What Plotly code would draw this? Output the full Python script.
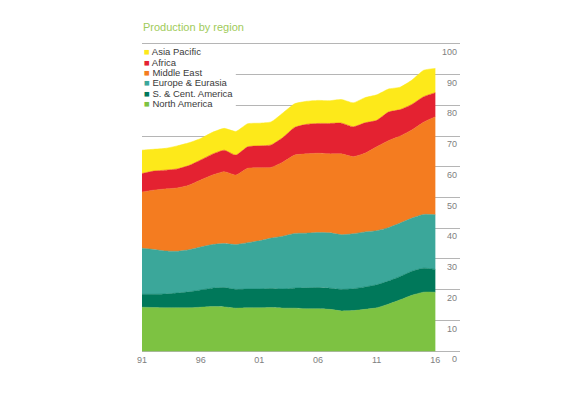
import plotly.graph_objects as go

years = list(range(1991, 2017))
north_america = [14.3, 14.2, 14.1, 14.1, 14.1, 14.3, 14.5, 14.4, 14.0, 14.1, 14.1, 14.2, 14.0,
                 14.0, 13.8, 13.8, 13.6, 13.1, 13.2, 13.6, 14.1, 15.3, 16.7, 18.2, 19.2, 19.2]
sc_america = [4.2, 4.3, 4.5, 4.8, 5.2, 5.6, 6.0, 6.3, 6.1, 6.1, 6.1, 6.2, 6.2,
              6.5, 6.8, 6.9, 6.9, 7.0, 7.1, 7.3, 7.5, 7.5, 7.6, 7.8, 7.8, 7.4]
europe_eurasia = [15.0, 14.6, 14.0, 13.6, 13.7, 14.0, 14.2, 14.3, 14.6, 15.1, 15.7, 16.4, 17.2,
                  17.8, 17.8, 17.9, 18.0, 17.8, 17.9, 17.9, 17.6, 17.4, 17.4, 17.3, 17.5, 17.8]
middle_east = [18.3, 19.3, 20.2, 20.6, 21.0, 21.8, 22.6, 23.4, 22.6, 24.2, 23.8, 23.0, 24.1,
               25.5, 25.8, 25.8, 25.7, 26.3, 25.1, 25.6, 27.3, 28.3, 28.3, 28.7, 30.0, 31.9]
africa = [6.0, 6.2, 6.1, 6.2, 6.4, 6.5, 6.8, 7.0, 6.5, 7.0, 7.1, 7.3, 8.0,
          9.0, 9.6, 9.7, 9.9, 10.0, 9.7, 9.9, 8.6, 9.3, 8.6, 8.3, 8.3, 7.8]
asia_pacific = [7.6, 7.1, 7.1, 7.5, 7.4, 7.0, 7.1, 7.1, 7.7, 7.5, 7.4, 7.5, 8.0,
                7.7, 7.5, 7.5, 7.4, 7.7, 7.8, 8.2, 8.3, 7.5, 7.3, 7.9, 8.6, 7.9]

x_tick_vals = [1991, 1996, 2001, 2006, 2011, 2016]
x_tick_text = ["91", "96", "01", "06", "11", "16"]
y_tick_vals = list(range(0, 101, 10))

series = [
    ("North America", north_america, "#7dc242"),
    ("S. & Cent. America", sc_america, "#00785a"),
    ("Europe & Eurasia", europe_eurasia, "#3ba79a"),
    ("Middle East", middle_east, "#f47c20"),
    ("Africa", africa, "#e42231"),
    ("Asia Pacific", asia_pacific, "#fde91a"),
]

Y_MIN, Y_MAX = -4.5, 100.6
PX_PER_UNIT = 3.067
PLOT_H = (Y_MAX - Y_MIN) * PX_PER_UNIT
PLOT_TOP = 44.0 - (Y_MAX - 100) * PX_PER_UNIT

def py(pix):
    return 1 - (pix - PLOT_TOP) / PLOT_H

fig = go.Figure()
for name, vals, col in series:
    fig.add_trace(go.Scatter(
        x=years, y=vals, name=name, stackgroup="one", mode="lines",
        line=dict(color=col, width=0.5, shape="spline", smoothing=0.5),
        fillcolor=col, showlegend=False, hoverinfo="skip",
    ))

# custom compact legend (top-left)
fig.add_shape(type="rect", xref="paper", yref="paper", x0=-0.01, x1=0.295,
              y0=py(109), y1=py(46.5),
              fillcolor="white", line=dict(width=0), layer="above")
legend_rows = list(reversed(series))
for i, (name, vals, col) in enumerate(legend_rows):
    ypix = 52.0 + i * 10.3
    fig.add_annotation(
        xref="paper", yref="paper", x=0.0, y=py(ypix),
        xanchor="left", yanchor="middle", showarrow=False,
        text=f"<span style='color:{col}'>■</span> {name}",
        font=dict(family="Liberation Sans, Arial, sans-serif", size=9.5, color="#3a3a3a"),
    )

fig.update_layout(
    width=583, height=399,
    margin=dict(l=142, r=123, t=PLOT_TOP, b=399 - PLOT_TOP - PLOT_H),
    paper_bgcolor="white", plot_bgcolor="white",
    title=dict(text="Production by region", x=143 / 583, xanchor="left",
               y=1 - 27.5 / 399, yanchor="middle",
               font=dict(family="Liberation Sans, Arial, sans-serif", size=11, color="#9fcb5a")),
    xaxis=dict(range=[1991, 2018.1], tickvals=x_tick_vals, ticktext=x_tick_text,
               showgrid=False, zeroline=False, showline=False, ticks="", automargin=False,
               ticklabelstandoff=-12,
               tickfont=dict(family="Liberation Sans, Arial, sans-serif", size=9, color="#808080")),
    yaxis=dict(range=[Y_MIN, Y_MAX], tickvals=y_tick_vals, side="right",
               ticklabelposition="inside", ticklabelshift=8, automargin=False,
               showgrid=True, gridcolor="#b5b5b5", gridwidth=1, zeroline=False,
               showline=False, ticks="",
               tickfont=dict(family="Liberation Sans, Arial, sans-serif", size=9, color="#808080")),
    showlegend=False,
)

fig.write_html("out.html", config={"displayModeBar": False},
               post_script="document.body.style.margin='0';")
